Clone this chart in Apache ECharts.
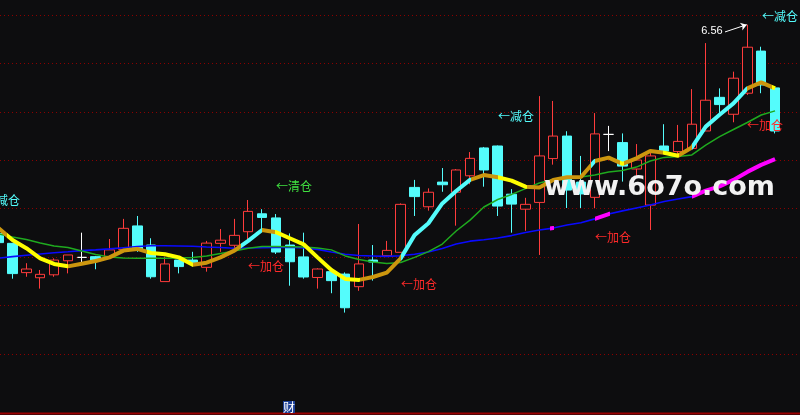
<!DOCTYPE html>
<html><head><meta charset="utf-8">
<script src="https://cdn.jsdelivr.net/npm/echarts@6/dist/echarts.min.js"></script>
<style>html,body{margin:0;padding:0;background:#0d0d0f}#c{width:800px;height:415px}</style>
</head><body><div id="c"></div>
<script>
// ---- data (index 0..56, oldest first) ----
const opens  = [5.698,5.657,5.536,5.515,5.527,5.585,5.599,5.602,5.599,5.632,5.729,5.650,5.499,5.588,5.588,5.558,5.657,5.649,5.705,5.779,5.762,5.650,5.601,5.516,5.540,5.530,5.478,5.588,5.606,5.620,5.888,5.808,5.910,5.868,5.936,6.051,6.059,5.860,5.798,5.826,6.007,6.100,5.910,5.847,6.107,6.073,5.964,5.815,6.059,6.036,6.049,6.121,6.260,6.190,6.277,6.451,6.299];
const closes = [5.660,5.532,5.551,5.529,5.588,5.609,5.599,5.585,5.630,5.719,5.630,5.519,5.572,5.561,5.577,5.658,5.670,5.690,5.789,5.764,5.621,5.581,5.518,5.551,5.503,5.391,5.572,5.580,5.628,5.818,5.850,5.868,5.899,5.960,6.008,5.960,5.811,5.819,5.818,6.018,6.100,5.877,5.861,6.109,6.107,5.976,6.001,6.018,6.038,6.078,6.149,6.248,6.230,6.339,6.467,6.311,6.121];
const lows   = [5.654,5.511,5.519,5.470,5.519,5.533,5.572,5.550,5.599,5.632,5.622,5.511,5.499,5.533,5.561,5.540,5.622,5.632,5.667,5.712,5.613,5.482,5.511,5.470,5.451,5.371,5.461,5.503,5.606,5.620,5.770,5.792,5.870,5.730,5.901,5.891,5.770,5.701,5.709,5.609,5.982,5.803,5.803,5.802,6.038,5.912,5.930,5.712,6.029,6.015,6.049,6.121,6.190,6.157,6.270,6.277,6.111];
const highs  = [5.704,5.658,5.575,5.547,5.595,5.609,5.701,5.605,5.675,5.758,5.770,5.678,5.602,5.588,5.622,5.667,5.716,5.758,5.836,5.798,5.778,5.698,5.701,5.554,5.543,5.537,5.737,5.650,5.667,5.822,5.919,5.884,5.968,5.964,6.034,6.055,6.061,5.881,5.845,6.265,6.245,6.120,6.018,6.195,6.142,6.111,6.067,6.035,6.149,6.146,6.294,6.484,6.297,6.366,6.560,6.469,6.303];
const maFast = [5.720,5.671,5.637,5.595,5.572,5.562,5.573,5.584,5.599,5.627,5.634,5.617,5.612,5.599,5.569,5.577,5.599,5.627,5.667,5.712,5.703,5.678,5.653,5.599,5.547,5.510,5.506,5.518,5.536,5.595,5.691,5.740,5.822,5.873,5.919,5.939,5.930,5.916,5.891,5.888,5.919,5.930,5.931,5.997,6.011,5.985,6.008,6.038,6.031,6.019,6.053,6.139,6.188,6.235,6.297,6.322,6.297];
const maMid  = [5.696,5.683,5.673,5.658,5.646,5.640,5.625,5.611,5.601,5.596,5.595,5.595,5.595,5.596,5.599,5.605,5.615,5.625,5.637,5.644,5.644,5.643,5.642,5.638,5.630,5.605,5.590,5.580,5.574,5.578,5.599,5.623,5.654,5.708,5.753,5.807,5.838,5.859,5.883,5.906,5.921,5.927,5.931,5.939,5.952,5.958,5.972,5.997,6.012,6.016,6.022,6.063,6.098,6.127,6.156,6.187,6.204];
const maSlow = [5.596,5.602,5.608,5.613,5.618,5.622,5.627,5.630,5.634,5.639,5.644,5.647,5.647,5.646,5.645,5.642,5.640,5.637,5.638,5.639,5.640,5.641,5.638,5.632,5.621,5.612,5.607,5.605,5.603,5.606,5.612,5.621,5.636,5.654,5.666,5.672,5.679,5.689,5.702,5.712,5.720,5.733,5.742,5.758,5.778,5.791,5.803,5.815,5.830,5.840,5.850,5.875,5.892,5.919,5.952,5.981,6.005];
// trend state of the fast line between x positions: 'y' = weakening, 'c' = rising (others: holding)
const fastStates = [[0.6,5.0,'y'],[10.7,14.0,'y'],[17.5,19.0,'c'],[19.9,26.1,'y'],[29.0,34.1,'c'],[36.0,38.1,'y'],[42.7,43.0,'c'],[44.8,45.1,'y'],[47.9,49.1,'y'],[50.0,54.0,'c'],[55.8,60,'y']];
// slow line highlighted stretches
const slowHighlights = [[39.77,40.05],[43.0,44.1],[50.0,60]];
// annotations: text, x index, price, kind
const notes = [
  ['←减仓',0.245,5.836,'cut'],
  ['←清仓',21.30,5.890,'clear'],
  ['←加仓',19.29,5.563,'add'],
  ['←加仓',30.32,5.489,'add'],
  ['←减仓',37.32,6.181,'cut'],
  ['←加仓',44.31,5.683,'add'],
  ['←加仓',55.27,6.142,'add'],
  ['←减仓',56.36,6.596,'cut']
];
const peakText = '6.56';
const peakIndex = 54;
const peakValue = 6.56;

// ---- build ----
const RED='#ff3c3c', CYAN='#54fcfc', ORANGE='#cc960e', YELLOW='#ffff00', BG='#0d0d0f';
const noteColor = {cut:CYAN, clear:'#40e040', add:'#ff2a2a'};
const candleData = opens.map((o,i)=>{
  const item = {value:[i,o,closes[i],lows[i],highs[i]]};
  if (o === closes[i]) item.itemStyle = {color:'#fff',color0:'#fff',borderColor:'#fff',borderColor0:'#fff'};
  return item;
});
const toXY = arr => arr.map((v,i)=>[i,v]);
const stateColor = {y:YELLOW, c:CYAN};
const chart = echarts.init(document.getElementById('c'), null, {renderer:'canvas'});
chart.setOption({
  animation:false,
  backgroundColor:BG,
  grid:{left:0,right:0,top:15,bottom:61},
  xAxis:{type:'value',min:0.1,max:57.8,show:false,splitLine:{show:false}},
  yAxis:{type:'value',min:5.2,max:6.6,interval:0.2,
    axisLine:{show:false},axisTick:{show:false},axisLabel:{show:false},
    splitLine:{show:true,lineStyle:{color:'#8c0000',width:1,type:[1,3]}}},
  visualMap:[
    {type:'piecewise',show:false,dimension:0,seriesIndex:4,
      pieces:fastStates.map(s=>({gte:s[0],lt:s[1],color:stateColor[s[2]]})),
      outOfRange:{color:ORANGE}},
    {type:'piecewise',show:false,dimension:0,seriesIndex:2,
      pieces:slowHighlights.map(s=>({gte:s[0],lt:s[1],color:'#ff00ff'})),
      outOfRange:{color:'rgba(0,0,0,0)'}}
  ],
  series:[
    {type:'candlestick',data:candleData,barWidth:10,silent:true,
      itemStyle:{color:BG,color0:CYAN,borderColor:RED,borderColor0:CYAN,borderColorDoji:'#fff',borderWidth:1},
      markPoint:{silent:true,symbol:'rect',symbolSize:1,itemStyle:{color:'rgba(0,0,0,0)'},
        label:{show:true,position:'inside',fontSize:12,fontFamily:'"Noto Sans CJK SC"'},
        data:notes.map(n=>({coord:[n[1],n[2]],value:n[0],label:{formatter:n[0],color:noteColor[n[3]]}}))
          .concat([{coord:[peakIndex-2.55,peakValue-0.026],value:peakText,
            label:{formatter:peakText,color:'#fff',fontSize:11,fontFamily:'"Liberation Sans"'}}])},
      markLine:{silent:true,symbol:['none','arrow'],symbolSize:6,label:{show:false},
        lineStyle:{color:'#ffffff',width:1,type:'solid'},
        data:[[{coord:[peakIndex-1.61,peakValue-0.030]},{coord:[peakIndex-0.04,peakValue]}]]}
    },
    {type:'line',data:toXY(maSlow),symbol:'none',silent:true,lineStyle:{color:'#0a0aff',width:1.6}},
    {type:'line',data:toXY(maSlow),symbol:'none',silent:true,lineStyle:{width:4}},
    {type:'line',data:toXY(maMid),symbol:'none',silent:true,lineStyle:{color:'#1faa1f',width:1.5}},
    {type:'line',data:toXY(maFast),symbol:'none',silent:true,lineStyle:{width:4}}
  ],
  graphic:[
    {type:'text',z:100,silent:true,style:{text:'www.6o7o.com',x:544,y:188,font:'bold 27px "DejaVu Sans"',fill:'#f2f2f2',align:'left',verticalAlign:'middle',textAlign:'left',textVerticalAlign:'middle'}},
    {type:'line',z:100,silent:true,shape:{x1:0,y1:413.5,x2:800,y2:413.5},style:{stroke:'#9a0000',lineWidth:2}},
    {type:'rect',z:100,silent:true,shape:{x:283,y:401,width:12,height:12},style:{fill:'#1d3f96'}},
    {type:'text',z:101,silent:true,style:{text:'财',x:289,y:407,font:'12px "Noto Sans CJK SC"',fill:'#ffffff',align:'center',verticalAlign:'middle',textAlign:'center',textVerticalAlign:'middle'}}
  ]
});
</script></body></html>
